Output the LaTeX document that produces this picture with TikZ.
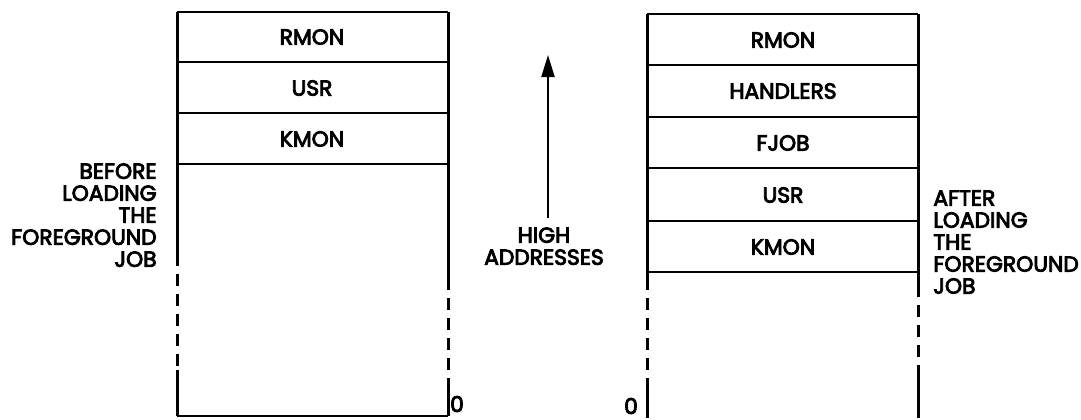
\documentclass[tikz,border=0pt]{standalone}
\usepackage{fontspec}
\setmainfont{Poppins}[FakeBold=4]
\usetikzlibrary{arrows.meta}
\begin{document}
\begin{tikzpicture}[x=0.5pt,y=-0.5pt,
  rule/.style={line width=1pt},
  side/.style={line width=1.5pt},
  broken/.style={line width=1.5pt, dash pattern=on 6pt off 4pt, dash phase=6pt},
  cell/.style={font=\fontsize{10.9}{11}\selectfont, inner sep=0pt},
  note/.style={font=\fontsize{10.9}{11}\selectfont, inner sep=0pt},
]
\useasboundingbox (0,0) rectangle (1081,419);

% ---- memory map before loading ----
\coordinate (L-tl) at (177,12);  \coordinate (L-tr) at (448,12);
\coordinate (L-d1l) at (177,62); \coordinate (L-d1r) at (448,62);
\coordinate (L-d2l) at (177,113);\coordinate (L-d2r) at (448,113);
\coordinate (L-d3l) at (177,164);\coordinate (L-d3r) at (448,164);
\coordinate (L-bl) at (177,416); \coordinate (L-br) at (448,416);
\coordinate (L-ls) at (177,266); \coordinate (L-le) at (177,370);
\coordinate (L-rs) at (448,290); \coordinate (L-re) at (448,380);

\draw[rule] (L-tl) -- (L-tr);
\draw[rule] (L-d1l) -- (L-d1r);
\draw[rule] (L-d2l) -- (L-d2r);
\draw[rule] (L-d3l) -- (L-d3r);
\draw[rule] (L-bl) -- (L-br);
\draw[side] (L-tl) -- (L-ls);
\draw[broken] (L-ls) -- (L-le);
\draw[side] (L-le) -- (L-bl);
\draw[side] (L-tr) -- (L-rs);
\draw[broken] (L-rs) -- (L-re);
\draw[side] (L-re) -- (L-br);

\node[cell] (L-rmon) at (312,37) {RMON};
\node[cell] (L-usr)  at (312,88) {USR};
\node[cell] (L-kmon) at (312,139) {KMON};

\node[note, anchor=north east, align=right] (before) at (157,163)
  {BEFORE\\LOADING\\THE\\FOREGROUND\\JOB};
\node[note] (L-zero) at (457,404) {0};

% ---- direction of addresses ----
\coordinate (arrow-tail) at (548,218);
\coordinate (arrow-tip) at (548,55);
\draw[line width=1.1pt, -{Triangle[length=11pt,width=6.5pt]}] (arrow-tail) -- (arrow-tip);
\node[note, anchor=north, align=center] (high) at (544,227) {HIGH\\ADDRESSES};

% ---- memory map after loading ----
\coordinate (R-tl) at (647,14);  \coordinate (R-tr) at (918,14);
\coordinate (R-d1l) at (647,65); \coordinate (R-d1r) at (918,65);
\coordinate (R-d2l) at (647,117);\coordinate (R-d2r) at (918,117);
\coordinate (R-d3l) at (647,168);\coordinate (R-d3r) at (918,168);
\coordinate (R-d4l) at (647,221);\coordinate (R-d4r) at (918,221);
\coordinate (R-d5l) at (647,272);\coordinate (R-d5r) at (918,272);
\coordinate (R-bl) at (647,418); \coordinate (R-br) at (918,418);
\coordinate (R-ls) at (647,290); \coordinate (R-le) at (647,380);
\coordinate (R-rs) at (918,297); \coordinate (R-re) at (918,370);

\draw[rule] (R-tl) -- (R-tr);
\draw[rule] (R-d1l) -- (R-d1r);
\draw[rule] (R-d2l) -- (R-d2r);
\draw[rule] (R-d3l) -- (R-d3r);
\draw[rule] (R-d4l) -- (R-d4r);
\draw[rule] (R-d5l) -- (R-d5r);
\draw[side] (R-tl) -- (R-ls);
\draw[broken] (R-ls) -- (R-le);
\draw[side] (R-le) -- (R-bl);
\draw[side] (R-tr) -- (R-rs);
\draw[broken] (R-rs) -- (R-re);
\draw[side] (R-re) -- (R-br);

\node[cell] (R-rmon) at (783,40)  {RMON};
\node[cell] (R-hand) at (783,91)  {HANDLERS};
\node[cell] (R-fjob) at (783,143) {FJOB};
\node[cell] (R-usr)  at (783,195) {USR};
\node[cell] (R-kmon) at (783,247) {KMON};

\node[note, anchor=north west, align=left] (after) at (933,190)
  {AFTER\\LOADING\\THE\\FOREGROUND\\JOB};
\node[note] (R-zero) at (631,406) {0};
\end{tikzpicture}
\end{document}
